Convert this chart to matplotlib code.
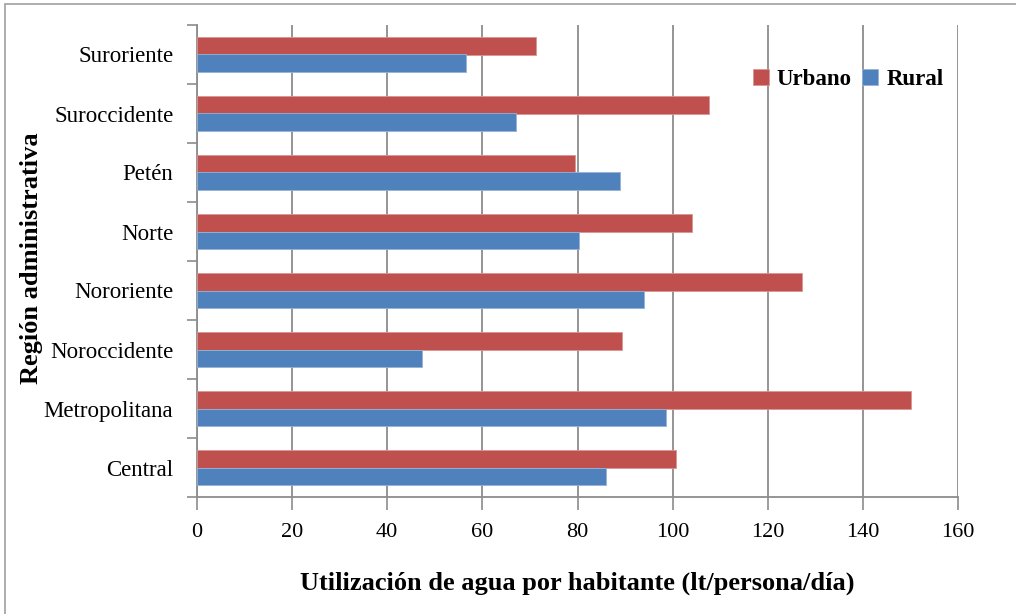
import matplotlib
matplotlib.use('Agg')
import matplotlib.pyplot as plt
from matplotlib.patches import Rectangle
import numpy as np

# Datos (de abajo hacia arriba)
regiones = ['Central', 'Metropolitana', 'Noroccidente', 'Nororiente',
            'Norte', 'Petén', 'Suroccidente', 'Suroriente']
urbano = [100.8, 150.1, 89.4, 127.2, 104.0, 79.5, 107.6, 71.2]
rural = [85.9, 98.7, 47.4, 93.9, 80.3, 88.9, 67.1, 56.6]
x_ticks = [0, 20, 40, 60, 80, 100, 120, 140, 160]

rojo = '#C0504D'
azul = '#4F81BD'
gris = '#8C8C8C'

plt.rcParams['font.family'] = ['Liberation Serif', 'DejaVu Serif']

fig = plt.figure(figsize=(10.16, 6.14), dpi=100)
ax = fig.add_axes([197 / 1016, 1 - 497 / 614, (958 - 197) / 1016, (497 - 25) / 614])

# Borde exterior del gráfico
fig.patches.append(Rectangle((5 / 1016, -0.1), 1.2, 1 - 4 / 614 + 0.1,
                             transform=fig.transFigure, fill=False,
                             edgecolor='#A0A0A0', linewidth=1.2))

y = np.arange(len(regiones))
h = 0.29
ax.barh(y + h / 2, urbano, height=h, color=rojo, edgecolor='#D99694',
        linewidth=0.6, label='Urbano', zorder=3)
ax.barh(y - h / 2, rural, height=h, color=azul, edgecolor='#95B3D7',
        linewidth=0.6, label='Rural', zorder=3)

ax.set_xlim(0, 160)
ax.set_ylim(-0.5, len(regiones) - 0.5)
ax.set_xticks(x_ticks)
ax.set_yticks(y)
ax.set_yticklabels(regiones)
ax.set_yticks(np.arange(len(regiones) + 1) - 0.5, minor=True)

ax.tick_params(axis='y', which='major', length=0, pad=17, labelsize=16.5)
ax.tick_params(axis='y', which='minor', length=7, color=gris, width=1.2)
ax.tick_params(axis='x', which='major', length=9, color=gris, width=1.2,
               pad=10, labelsize=16)

ax.grid(axis='x', color=gris, linewidth=1.3, zorder=0)
for s in ['top', 'right']:
    ax.spines[s].set_visible(False)
for s in ['left', 'bottom']:
    ax.spines[s].set_color(gris)
    ax.spines[s].set_linewidth(1.3)

ax.set_xlabel('Utilización de agua por habitante (lt/persona/día)',
              fontsize=19, fontweight='bold', labelpad=21)
ax.set_ylabel('Región administrativa', fontsize=19, fontweight='bold')
ax.yaxis.set_label_coords(-0.203, 0.505)

ax.legend(loc='upper right', bbox_to_anchor=(1.008, 0.95), ncol=2,
          frameon=False, prop={'weight': 'bold', 'size': 16.5},
          handlelength=0.7, handleheight=0.7, handletextpad=0.35,
          columnspacing=0.45)

fig.savefig('out.png', dpi=100)
